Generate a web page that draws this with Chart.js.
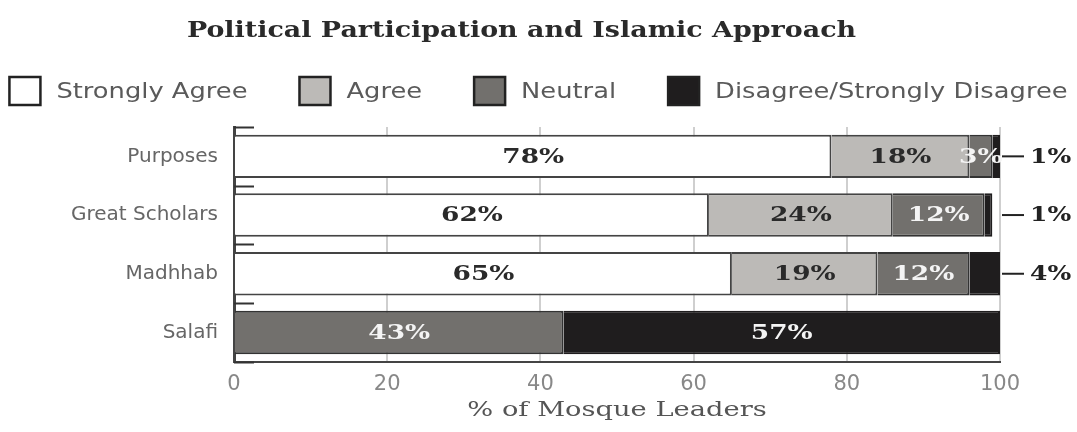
<!DOCTYPE html>
<html>
<head>
<meta charset="utf-8">
<script src="https://cdn.jsdelivr.net/npm/chart.js@4"></script>
<style>
  html, body { margin: 0; padding: 0; background: #fff; }
  #wrap { width: 1077px; height: 432px; }
</style>
</head>
<body>
<div id="wrap"><canvas id="c"></canvas></div>
<script>
// categories and series (percent of mosque leaders)
const categories = ['Purposes', 'Great Scholars', 'Madhhab', 'Salafi'];
const stronglyAgree = [78, 62, 65, 0];
const agree = [18, 24, 19, 0];
const neutral = [3, 12, 12, 43];
const disagree = [1, 1, 4, 57];
const xTicks = [0, 20, 40, 60, 80, 100];

const chartTitle = 'Political Participation and Islamic Approach';
const xTitle = '% of Mosque Leaders';

const serif = '"DejaVu Serif", "Liberation Serif", serif';
const sans = '"DejaVu Sans", "Liberation Sans", sans-serif';

// the scanned original is stretched sideways, so text is drawn a bit wide
function wideText(ctx, text, x, y, sx, align) {
  ctx.save();
  ctx.translate(x, y);
  ctx.scale(sx, 1);
  ctx.textAlign = align;
  ctx.fillText(text, 0, 0);
  ctx.restore();
}

// title + legend in the top padding, axis title at the bottom
const header = {
  id: 'header',
  afterDraw(chart) {
    const ctx = chart.ctx;
    const area = chart.chartArea;
    const W = chart.width;
    ctx.save();
    ctx.textBaseline = 'middle';

    ctx.fillStyle = '#2a2a2a';
    ctx.font = 'bold 23px ' + serif;
    wideText(ctx, chartTitle, W / 2 - 17, 31, 1.17, 'center');

    // legend
    const sx = 1.17, box = 31, boxH = 28, gapText = 16, gapItem = 52;
    ctx.font = '22px ' + sans;
    const items = chart.data.datasets.map(ds => ({
      ds, w: box + gapText + ctx.measureText(ds.label).width * sx
    }));
    const total = items.reduce((s, it) => s + it.w, 0) + gapItem * (items.length - 1);
    let x = W / 2 - total / 2;
    const ly = 91;
    items.forEach(it => {
      ctx.fillStyle = it.ds.backgroundColor;
      ctx.fillRect(x, ly - boxH / 2, box, boxH);
      ctx.strokeStyle = '#222';
      ctx.lineWidth = 2.5;
      ctx.strokeRect(x, ly - boxH / 2, box, boxH);
      ctx.fillStyle = '#5a5a5a';
      wideText(ctx, it.ds.label, x + box + gapText, ly + 1, sx, 'left');
      x += it.w + gapItem;
    });

    // x axis title
    ctx.fillStyle = '#555';
    ctx.font = '21px ' + serif;
    wideText(ctx, xTitle, (area.left + area.right) / 2, 411, 1.3, 'center');
    ctx.restore();
  }
};

// labels drawn on the bars, small ones pulled out to the right
const barLabels = {
  id: 'barLabels',
  afterDatasetsDraw(chart) {
    const ctx = chart.ctx;
    const area = chart.chartArea;
    const yScale = chart.scales.y;
    ctx.save();

    // short inward ticks at the category boundaries
    ctx.strokeStyle = '#333';
    ctx.lineWidth = 2;
    for (let i = 0; i <= categories.length; i++) {
      const y = Math.round(yScale.getPixelForValue(i - 0.5)) + 0.5;
      ctx.beginPath();
      ctx.moveTo(area.left, y);
      ctx.lineTo(area.left + 20, y);
      ctx.stroke();
    }

    ctx.font = 'bold 20px ' + serif;
    ctx.textBaseline = 'middle';
    chart.data.datasets.forEach((ds, di) => {
      const meta = chart.getDatasetMeta(di);
      meta.data.forEach((bar, i) => {
        const v = ds.data[i];
        if (!v) return;
        const left = Math.min(bar.x, bar.base);
        const w = Math.abs(bar.x - bar.base);
        if (di === 3 && v < 5) {
          ctx.strokeStyle = '#222';
          ctx.lineWidth = 2;
          ctx.beginPath();
          ctx.moveTo(area.right + 2, bar.y);
          ctx.lineTo(area.right + 24, bar.y);
          ctx.stroke();
          ctx.fillStyle = '#222';
          wideText(ctx, v + '%', area.right + 30, bar.y + 1, 1.25, 'left');
          return;
        }
        ctx.fillStyle = di >= 2 ? '#f4f4f4' : '#2a2a2a';
        wideText(ctx, v + '%', left + w / 2, bar.y + 1, 1.32, 'center');
      });
    });
    ctx.restore();
  }
};

new Chart(document.getElementById('c'), {
  type: 'bar',
  data: {
    labels: categories,
    datasets: [
      { label: 'Strongly Agree', data: stronglyAgree, backgroundColor: '#ffffff', borderColor: '#444', borderWidth: 2 },
      { label: 'Agree', data: agree, backgroundColor: '#bcbab7', borderColor: '#444', borderWidth: 2 },
      { label: 'Neutral', data: neutral, backgroundColor: '#72706d', borderColor: '#333', borderWidth: 2 },
      { label: 'Disagree/Strongly Disagree', data: disagree, backgroundColor: '#1f1d1e', borderColor: '#1f1d1e', borderWidth: 2 }
    ]
  },
  options: {
    indexAxis: 'y',
    responsive: true,
    maintainAspectRatio: false,
    animation: false,
    layout: { padding: { left: 0, right: 77, top: 127, bottom: 25 } },
    datasets: { bar: { barPercentage: 0.74, categoryPercentage: 1 } },
    plugins: {
      title: { display: false },
      legend: { display: false },
      tooltip: { enabled: false }
    },
    scales: {
      x: {
        stacked: true,
        min: 0,
        max: 100,
        afterBuildTicks: (s) => { s.ticks = xTicks.map(v => ({ value: v })); },
        ticks: { color: '#888', font: { family: sans, size: 21 }, padding: 10 },
        grid: { color: '#cfcfcf', lineWidth: 2, drawTicks: false },
        border: { color: '#444', width: 2 }
      },
      y: {
        stacked: true,
        afterFit: (s) => { s.width = 234; },
        ticks: { color: '#666', font: { family: sans, size: 20 }, padding: 8 },
        grid: { display: false },
        border: { color: '#444', width: 3 }
      }
    }
  },
  plugins: [barLabels, header]
});
</script>
</body>
</html>
